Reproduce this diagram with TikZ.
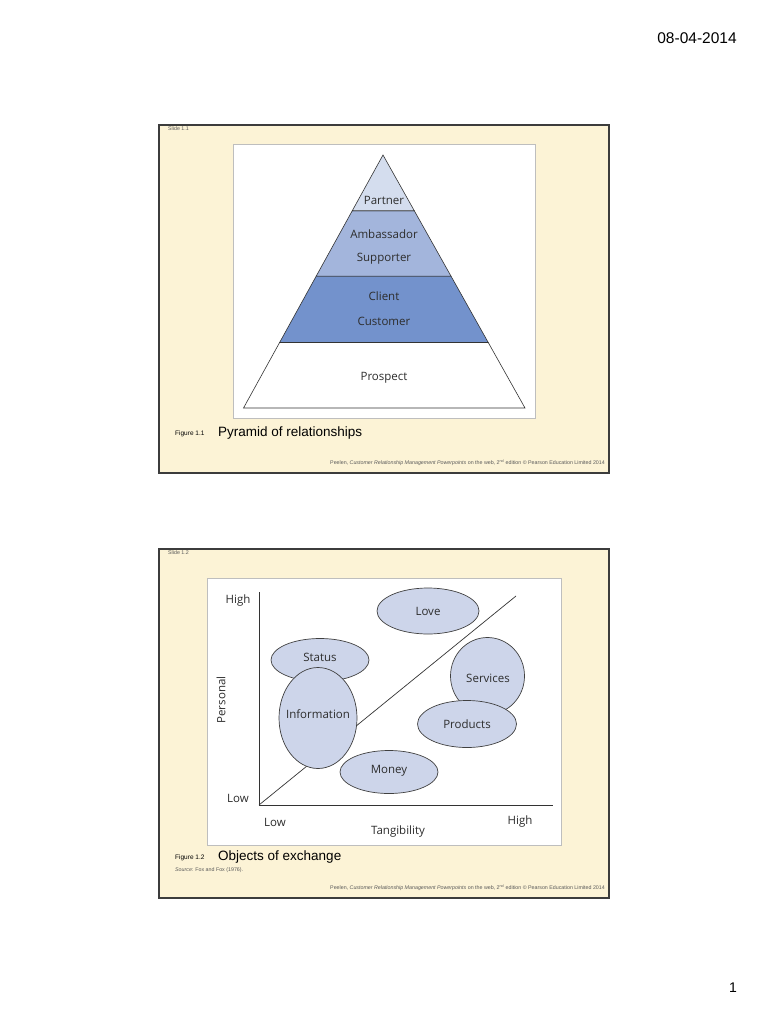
\documentclass[tikz,border=0pt]{standalone}
\usepackage{fontspec}
\setmainfont{Liberation Sans}
\newfontfamily\diafont{Open Sans}
\usetikzlibrary{calc,shapes.geometric}
\definecolor{cream}{RGB}{252,243,214}
\definecolor{framegray}{RGB}{60,60,60}
\definecolor{boxgray}{RGB}{190,190,190}
\definecolor{lay1}{RGB}{212,221,238}
\definecolor{lay2}{RGB}{163,181,220}
\definecolor{lay3}{RGB}{115,146,204}
\definecolor{ellfill}{RGB}{205,213,234}
\definecolor{txtgray}{RGB}{45,45,45}
\tikzset{
  slideframe/.style={draw=framegray,line width=1.3pt,fill=cream},
  innerbox/.style={draw=boxgray,line width=0.8pt,fill=white},
  layer/.style={draw=black!80,line width=0.6pt},
  dlabel/.style={font=\diafont\fontsize{11.5}{13}\selectfont,text=txtgray,inner sep=0pt},
  ell/.style={shape=ellipse,draw=black!75,line width=0.7pt,fill=ellfill},
  tiny/.style={font=\fontsize{5.3}{6}\selectfont,text=black!65,inner sep=0pt},
  figlab/.style={font=\fontsize{6.5}{8}\selectfont,inner sep=0pt,anchor=west},
  figcap/.style={font=\fontsize{13.5}{15}\selectfont,inner sep=0pt,anchor=west},
  axis/.style={draw=black!80,line width=0.7pt}
}
\begin{document}
\begin{tikzpicture}[x=1pt,y=-1pt]
\useasboundingbox (0,0) rectangle (768,1024);
\fill[white] (0,0) rectangle (768,1024);
\node[font=\fontsize{15.5}{17}\selectfont,inner sep=0pt] (date) at (697,38) {08-04-2014};
\node[font=\fontsize{14}{16}\selectfont,inner sep=0pt] (pnum) at (733,988) {1};

% ---------- Slide 1 ----------
\draw[slideframe] (159,125) rectangle (609,473);
\node[tiny,anchor=west] (s1lab) at (168,129) {Slide 1.1};
\draw[innerbox] (233,144) rectangle (535,418);
\coordinate (apex) at (383,155);
\coordinate (bl) at (243.5,408);
\coordinate (br) at (525,408);
\coordinate (l1) at ($(apex)!0.2204!(bl)$);
\coordinate (r1) at ($(apex)!0.2204!(br)$);
\coordinate (l2) at ($(apex)!0.4788!(bl)$);
\coordinate (r2) at ($(apex)!0.4788!(br)$);
\coordinate (l3) at ($(apex)!0.7412!(bl)$);
\coordinate (r3) at ($(apex)!0.7412!(br)$);
\draw[layer,fill=white] (l3) -- (r3) -- (br) -- (bl) -- cycle;
\draw[layer,fill=lay3] (l2) -- (r2) -- (r3) -- (l3) -- cycle;
\draw[layer,fill=lay2] (l1) -- (r1) -- (r2) -- (l2) -- cycle;
\draw[layer,fill=lay1] (apex) -- (r1) -- (l1) -- cycle;
\node[dlabel] (partner) at (384,200) {Partner};
\node[dlabel] (amb) at (384,234) {Ambassador};
\node[dlabel] (sup) at (384,259) {Supporter};
\node[dlabel] (client) at (384,296) {Client};
\node[dlabel] (cust) at (384,321) {Customer};
\node[dlabel] (prosp) at (384,378) {Prospect};
\node[figlab] (f1) at (175,434) {Figure 1.1};
\node[figcap] (c1) at (218,433) {Pyramid of relationships};
\node[tiny,anchor=east] (foot1) at (605,463) {Peelen, \textit{Customer Relationship Management Powerpoints} on the web, 2\textsuperscript{nd} edition \copyright{} Pearson Education Limited 2014};

% ---------- Slide 2 ----------
\draw[slideframe] (159,549) rectangle (609,898);
\node[tiny,anchor=west] (s2lab) at (168,553) {Slide 1.2};
\draw[innerbox] (207,578) rectangle (561,845);
\coordinate (origin) at (259,805);
\coordinate (ytop) at (259,592);
\coordinate (xend) at (553,805);
\coordinate (dend) at (516,596);
\draw[axis] (ytop) -- (origin) -- (xend);
\draw[axis] (origin) -- (dend);
\node[ell,minimum width=102pt,minimum height=46pt] (love) at (428,611) {};
\node[dlabel] at (love.center) {Love};
\node[ell,minimum width=98pt,minimum height=43pt] (status) at (320,660) {};
\node[dlabel] at (320,657) {Status};
\node[ell,minimum width=78pt,minimum height=101pt] (info) at (318,718) {};
\node[dlabel] at (318,714) {Information};
\node[ell,minimum width=74pt,minimum height=77pt] (serv) at (487.5,676) {};
\node[dlabel] at (488,678) {Services};
\node[ell,minimum width=99pt,minimum height=47pt] (prod) at (467,724) {};
\node[dlabel] at (467,724) {Products};
\node[ell,minimum width=98pt,minimum height=43pt] (money) at (389,772) {};
\node[dlabel] at (389,771) {Money};
\node[dlabel] (yhigh) at (238,601) {High};
\node[dlabel] (ylow) at (238,798) {Low};
\node[dlabel,rotate=90] (ypers) at (221,700) {Personal};
\node[dlabel] (xlow) at (275,822) {Low};
\node[dlabel] (xhigh) at (520,822) {High};
\node[dlabel] (xtang) at (398,832) {Tangibility};
\node[figlab] (f2) at (175,858) {Figure 1.2};
\node[figcap] (c2) at (218,857) {Objects of exchange};
\node[tiny,anchor=west] (src) at (175,870) {\textit{Source}: Fox and Fox (1976).};
\node[tiny,anchor=east] (foot2) at (605,888) {Peelen, \textit{Customer Relationship Management Powerpoints} on the web, 2\textsuperscript{nd} edition \copyright{} Pearson Education Limited 2014};
\end{tikzpicture}
\end{document}
